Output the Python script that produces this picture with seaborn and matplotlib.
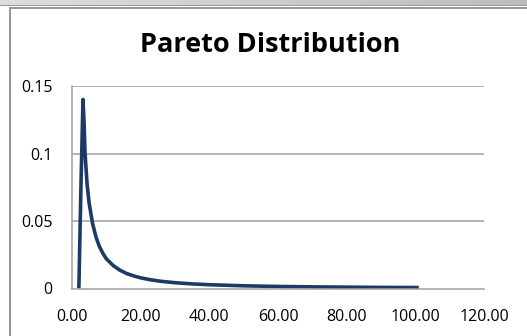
import numpy as np
import pandas as pd
import matplotlib
matplotlib.use("Agg")
import matplotlib.pyplot as plt
from matplotlib.patches import Rectangle
import seaborn as sns

# Pareto density readings (x, f(x))
x_vals = [2, 2.6, 3.2, 3.5, 3.8, 4.4, 5, 6, 7, 8, 9, 10, 12, 14, 16, 18, 20,
          23, 26, 30, 35, 40, 50, 60, 70, 80, 90, 101]
y_vals = [0.0, 0.075, 0.14, 0.124, 0.100, 0.077, 0.063, 0.048, 0.038, 0.031,
          0.026, 0.022, 0.017, 0.0135, 0.011, 0.0093, 0.0079, 0.0064, 0.0053,
          0.0043, 0.0034, 0.0028, 0.0020, 0.0015, 0.0012, 0.0010, 0.0008, 0.0007]

x_ticks = [0, 20, 40, 60, 80, 100, 120]
y_ticks = [0, 0.05, 0.1, 0.15]
y_tick_labels = ["0", "0.05", "0.1", "0.15"]
title = "Pareto Distribution"

sns.set_theme(style="white")
plt.rcParams["font.family"] = ["Open Sans", "DejaVu Sans"]

W, H = 527, 336
fig = plt.figure(figsize=(W / 100, H / 100), dpi=100)
fig.patch.set_facecolor("white")

# window strip along the top and chart frame
grad = np.linspace(0.87, 0.74, 256).reshape(1, -1)
strip = fig.add_axes([0, 1 - 5 / H, 1, 5 / H])
strip.imshow(np.dstack([grad, grad, grad]), aspect="auto", extent=[0, 1, 0, 1])
strip.axis("off")
fig.add_artist(Rectangle((0, 1 - 6 / H), 1, 1 / H, transform=fig.transFigure,
                         facecolor="#9a9a9a", edgecolor="none"))
fig.add_artist(Rectangle((10 / W, -0.05), 1.2, 1 - 7.5 / H + 0.05,
                         transform=fig.transFigure, facecolor="none",
                         edgecolor="#8c8c8c", linewidth=1.3))

left, right = 72 / W, 484 / W
bottom, top = (H - 288.5) / H, (H - 86) / H
ax = fig.add_axes([left, bottom, right - left, top - bottom])

df = pd.DataFrame({"x": x_vals, "y": y_vals})
sns.lineplot(data=df, x="x", y="y", ax=ax, color="#1c3a64", linewidth=2.6,
             sort=False, solid_joinstyle="round", solid_capstyle="butt")

ax.set_xlim(0, 120)
ax.set_ylim(0, 0.15)
ax.set_xticks(x_ticks)
ax.set_xticklabels([f"{v:.2f}" for v in x_ticks])
ax.set_yticks(y_ticks)
ax.set_yticklabels(y_tick_labels)
ax.set_xlabel("")
ax.set_ylabel("")

grid_c = "#a0a0a0"
for v in y_ticks[1:]:
    ax.axhline(v, color=grid_c, linewidth=1.1, zorder=0)
ax.grid(False)
for s in ["top", "right"]:
    ax.spines[s].set_visible(False)
for s in ["left", "bottom"]:
    ax.spines[s].set_color(grid_c)
    ax.spines[s].set_linewidth(1.1)
ax.tick_params(axis="both", which="both", direction="out", length=5,
               width=1.1, color=grid_c, labelsize=11.5, labelcolor="black")
ax.tick_params(axis="y", pad=9)
ax.tick_params(axis="x", pad=10)
ax.set_facecolor("none")

fig.text(270 / W, 1 - 52 / H, title, ha="center", va="baseline",
         fontsize=19.5, fontweight="bold", color="black")

fig.savefig("out.png", dpi=100)
